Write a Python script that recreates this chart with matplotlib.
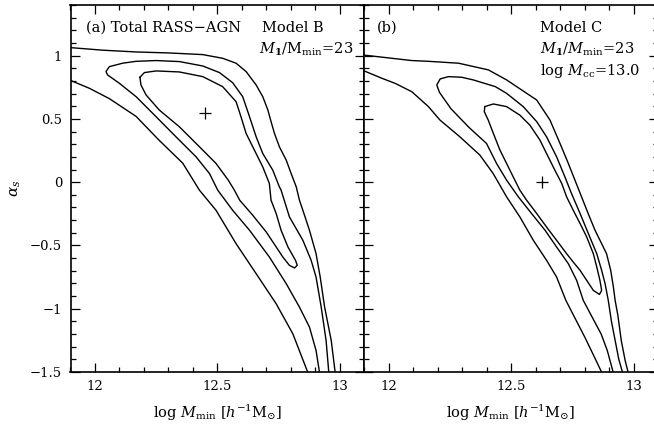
import numpy as np
import matplotlib
matplotlib.use("Agg")
import matplotlib.pyplot as plt
from matplotlib.ticker import MultipleLocator

plt.rcParams['font.family'] = ['DejaVu Serif']
plt.rcParams['mathtext.fontset'] = 'dejavuserif'

# ---- Panel (a): Model B confidence contours (log Mmin, alpha_s) ----
a_outer_upper_x = [11.895, 12.031, 12.168, 12.304, 12.441, 12.522, 12.577, 12.618, 12.659, 12.686,
                   12.707, 12.720, 12.734, 12.754, 12.782, 12.802, 12.823, 12.836, 12.850, 12.877,
                   12.904, 12.921, 12.939, 12.966, 12.982]
a_outer_upper_y = [1.064, 1.043, 1.029, 1.021, 1.008, 0.979, 0.940, 0.874, 0.768, 0.676,
                   0.570, 0.478, 0.385, 0.280, 0.174, 0.069, -0.037, -0.142, -0.222, -0.380,
                   -0.565, -0.750, -0.987, -1.251, -1.502]
a_outer_lower_x = [11.895, 11.977, 12.059, 12.168, 12.263, 12.359, 12.427, 12.495, 12.577, 12.659,
                   12.741, 12.809, 12.870]
a_outer_lower_y = [0.808, 0.742, 0.660, 0.520, 0.330, 0.150, -0.063, -0.222, -0.486, -0.723,
                   -0.961, -1.198, -1.502]

a_mid_x = [12.918, 12.904, 12.877, 12.836, 12.782, 12.713, 12.632, 12.563, 12.502, 12.468,
           12.413, 12.331, 12.250, 12.168, 12.100, 12.052, 12.045, 12.059, 12.113, 12.168,
           12.250, 12.345, 12.441, 12.509, 12.563, 12.604, 12.632, 12.659, 12.686, 12.727,
           12.754, 12.761, 12.795, 12.850, 12.884, 12.904, 12.925, 12.945, 12.956]
a_mid_y = [-1.502, -1.330, -1.145, -0.987, -0.802, -0.591, -0.380, -0.222, -0.063, 0.069,
           0.201, 0.359, 0.517, 0.676, 0.781, 0.847, 0.874, 0.913, 0.940, 0.955,
           0.961, 0.953, 0.918, 0.866, 0.786, 0.676, 0.517, 0.359, 0.227, 0.095,
           -0.037, -0.063, -0.274, -0.459, -0.618, -0.750, -0.987, -1.251, -1.502]

a_in_x = [12.184, 12.202, 12.250, 12.345, 12.441, 12.522, 12.577, 12.597, 12.618, 12.652,
          12.686, 12.713, 12.720, 12.741, 12.761, 12.789, 12.820, 12.827, 12.816, 12.795,
          12.768, 12.741, 12.700, 12.645, 12.592, 12.570, 12.545, 12.495, 12.427, 12.345,
          12.263, 12.209, 12.188, 12.184]
a_in_y = [0.829, 0.866, 0.879, 0.871, 0.834, 0.755, 0.636, 0.517, 0.385, 0.253,
          0.121, -0.010, -0.143, -0.248, -0.380, -0.512, -0.618, -0.657, -0.678, -0.657,
          -0.591, -0.512, -0.393, -0.261, -0.143, -0.063, 0.016, 0.148, 0.280, 0.438,
          0.570, 0.689, 0.768, 0.829]
a_best = (12.45, 0.55)

# ---- Panel (b): Model C confidence contours ----
b_outer_upper_x = [11.891, 12.095, 12.163, 12.286, 12.408, 12.482, 12.605, 12.659, 12.700, 12.734,
                   12.761, 12.788, 12.815, 12.843, 12.870, 12.890, 12.907, 12.918, 12.925, 12.936,
                   12.950, 12.966, 12.978]
b_outer_upper_y = [1.006, 0.961, 0.955, 0.940, 0.887, 0.808, 0.649, 0.491, 0.306, 0.148,
                   0.016, -0.116, -0.248, -0.380, -0.486, -0.565, -0.697, -0.829, -0.934, -1.050,
                   -1.250, -1.410, -1.502]
b_outer_lower_x = [11.891, 11.973, 12.027, 12.095, 12.163, 12.210, 12.291, 12.373, 12.427, 12.482,
                   12.536, 12.591, 12.645, 12.686, 12.724, 12.760, 12.800, 12.835, 12.870]
b_outer_lower_y = [0.887, 0.821, 0.781, 0.715, 0.597, 0.491, 0.359, 0.214, 0.069, -0.116,
                   -0.274, -0.459, -0.617, -0.749, -0.934, -1.070, -1.220, -1.360, -1.502]

b_mid_x = [12.917, 12.893, 12.868, 12.835, 12.795, 12.768, 12.734, 12.686, 12.639, 12.584,
           12.530, 12.482, 12.441, 12.400, 12.330, 12.255, 12.208, 12.197, 12.211, 12.245,
           12.299, 12.346, 12.436, 12.482, 12.550, 12.605, 12.645, 12.686, 12.720, 12.747,
           12.782, 12.816, 12.850, 12.870, 12.884, 12.897, 12.910, 12.925, 12.940, 12.955]
b_mid_y = [-1.502, -1.330, -1.200, -1.080, -0.934, -0.776, -0.644, -0.512, -0.380, -0.248,
           -0.116, 0.016, 0.148, 0.306, 0.430, 0.580, 0.710, 0.768, 0.816, 0.834,
           0.829, 0.808, 0.755, 0.702, 0.597, 0.478, 0.359, 0.201, 0.042, -0.090,
           -0.248, -0.407, -0.565, -0.697, -0.802, -0.934, -1.100, -1.250, -1.400, -1.502]

b_in_x = [12.393, 12.428, 12.482, 12.536, 12.577, 12.618, 12.645, 12.679, 12.707, 12.727,
          12.754, 12.782, 12.809, 12.836, 12.850, 12.863, 12.870, 12.861, 12.836, 12.809,
          12.782, 12.754, 12.727, 12.686, 12.645, 12.605, 12.564, 12.536, 12.509, 12.482,
          12.455, 12.428, 12.407, 12.391, 12.393]
b_in_y = [0.597, 0.618, 0.597, 0.530, 0.451, 0.333, 0.227, 0.095, -0.010, -0.116,
          -0.222, -0.327, -0.433, -0.565, -0.670, -0.776, -0.855, -0.887, -0.855, -0.776,
          -0.697, -0.631, -0.565, -0.459, -0.354, -0.248, -0.143, -0.063, 0.042, 0.148,
          0.253, 0.385, 0.491, 0.557, 0.597]
b_best = (12.627, 0.0)

xlim = (11.9, 13.1)
ylim = (-1.5, 1.4)
xticks_major = [12, 12.5, 13]
yticks_major = [-1.5, -1, -0.5, 0, 0.5, 1]
ytick_labels = ['\u22121.5', '\u22121', '\u22120.5', '0', '0.5', '1']

W, H = 654, 424
fig = plt.figure(figsize=(W / 100, H / 100), dpi=100)
ax_a = fig.add_axes([70.5 / W, 52 / H, 293.5 / W, 367 / H])
ax_b = fig.add_axes([364 / W, 52 / H, 294 / W, 367 / H])

LW = 1.0
for ax in (ax_a, ax_b):
    ax.set_xlim(*xlim)
    ax.set_ylim(*ylim)
    ax.set_xticks(xticks_major)
    ax.set_xticklabels(['12', '12.5', '13'])
    ax.xaxis.set_minor_locator(MultipleLocator(0.1))
    ax.yaxis.set_minor_locator(MultipleLocator(0.1))
    ax.set_yticks(yticks_major)
    ax.tick_params(which='both', direction='in', top=True, right=True, width=0.9,
                   labelsize=9.5, pad=6)
    ax.tick_params(which='major', length=6.5)
    ax.tick_params(which='minor', length=3.5)
    for s in ax.spines.values():
        s.set_linewidth(1.2)
    ax.set_xlabel(r'log $M_{\rm min}$ [$h^{-1}$M$_{\odot}$]', fontsize=10.5, labelpad=7)

ax_a.set_yticklabels(ytick_labels)
ax_b.set_yticklabels([])
ax_a.set_ylabel(r'$\alpha_s$', fontsize=11, labelpad=5)

k = dict(color='black', lw=LW)
ax_a.plot(a_outer_upper_x, a_outer_upper_y, **k)
ax_a.plot(a_outer_lower_x, a_outer_lower_y, **k)
ax_a.plot(a_mid_x, a_mid_y, **k)
ax_a.plot(a_in_x, a_in_y, **k)
ax_a.plot(*a_best, marker='+', color='black', ms=9, mew=0.9)

ax_b.plot(b_outer_upper_x, b_outer_upper_y, **k)
ax_b.plot(b_outer_lower_x, b_outer_lower_y, **k)
ax_b.plot(b_mid_x, b_mid_y, **k)
ax_b.plot(b_in_x, b_in_y, **k)
ax_b.plot(*b_best, marker='+', color='black', ms=9, mew=0.9)

fs = 10.5
ax_a.text(0.053, 0.927, '(a) Total RASS\u2212AGN', transform=ax_a.transAxes, fontsize=fs)
ax_a.text(0.652, 0.927, 'Model B', transform=ax_a.transAxes, fontsize=fs)
ax_a.text(0.642, 0.868, r'$M_{\bf 1}$/M$_{\rm min}$=23', transform=ax_a.transAxes, fontsize=fs)

ax_b.text(0.044, 0.927, '(b)', transform=ax_b.transAxes, fontsize=fs)
ax_b.text(0.599, 0.927, 'Model C', transform=ax_b.transAxes, fontsize=fs)
ax_b.text(0.599, 0.868, r'$M_{\bf 1}/M_{\rm min}$=23', transform=ax_b.transAxes, fontsize=fs)
ax_b.text(0.599, 0.809, r'log $M_{\rm cc}$=13.0', transform=ax_b.transAxes, fontsize=fs)

fig.savefig('out.png', dpi=100)
